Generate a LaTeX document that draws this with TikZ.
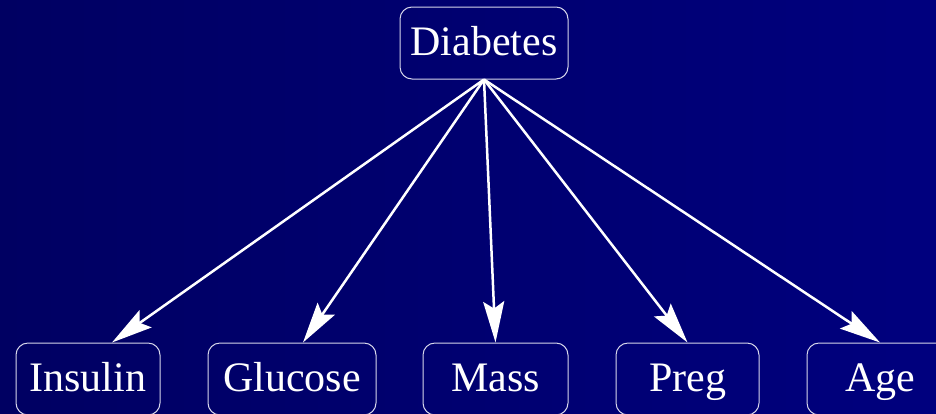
\documentclass[tikz,border=0pt]{standalone}
\usepackage{fontspec}
\setmainfont{Liberation Serif}
\usetikzlibrary{arrows.meta}
\definecolor{bgleft}{RGB}{0,0,98}
\definecolor{bgright}{RGB}{0,0,126}
\definecolor{boxline}{RGB}{215,215,235}
\tikzset{
  varbox/.style={draw=boxline, line width=1pt, rounded corners=12pt,
    minimum height=72pt, inner sep=0pt, text height=28pt, text depth=4pt,
    text=white, font=\fontsize{42}{50}\selectfont},
  edge/.style={draw=white, line width=2.5pt,
    -{Stealth[length=41pt, width=21pt, inset=7pt]}}
}
\begin{document}
\begin{tikzpicture}[x=1pt, y=-1pt]
\useasboundingbox (0,0) rectangle (936,413);
\shade[left color=bgleft, right color=bgright, shading angle=90] (0,0) rectangle (936,413);
\node[varbox, minimum width=168pt] (diab) at (484,43) {Diabetes};
\node[varbox, minimum width=144pt] (ins) at (88,379) {Insulin};
\node[varbox, minimum width=168pt] (glu) at (292,379) {Glucose};
\node[varbox, minimum width=145pt] (mass) at (495.5,379) {Mass};
\node[varbox, minimum width=143pt] (preg) at (687.5,379) {Preg};
\node[varbox, minimum width=146pt] (age) at (880,379) {Age};
\draw[edge] (diab.south) -- ([xshift=24pt]ins.north);
\draw[edge] (diab.south) -- ([xshift=11pt]glu.north);
\draw[edge] (diab.south) -- (mass.north);
\draw[edge] (diab.south) -- (preg.north);
\draw[edge] (diab.south) -- (age.north);
\end{tikzpicture}
\end{document}
